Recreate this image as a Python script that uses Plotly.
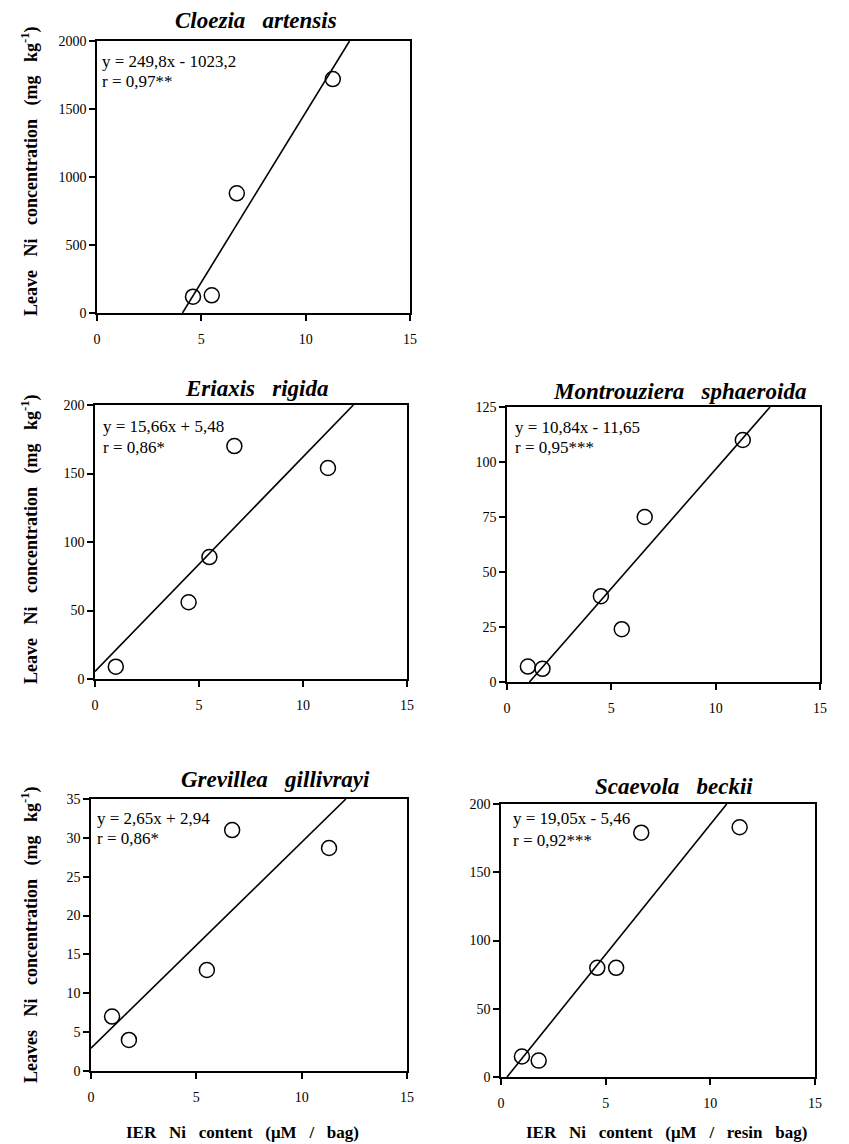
import plotly.graph_objects as go

# the page body has an 8px margin, so the figure starts at (8, 8) of the window;
# page coordinates are mapped to figure coordinates by subtracting OFF
OFF = 8
W, H = 849, 1144

# ---- data ----
titles = ["Cloezia  artensis", "Eriaxis  rigida", "Montrouziera  sphaeroida",
          "Grevillea  gillivrayi", "Scaevola  beckii"]
x1_vals = [4.6, 5.5, 6.7, 11.3]
y1_vals = [120, 130, 880, 1720]
x2_vals = [1.0, 4.5, 5.5, 6.7, 11.2]
y2_vals = [9, 56, 89, 170, 154]
x3_vals = [1.0, 1.7, 4.5, 5.5, 6.6, 11.3]
y3_vals = [7, 6, 39, 24, 75, 110]
x4_vals = [1.0, 1.8, 5.5, 6.7, 11.3]
y4_vals = [7, 4, 13, 31, 28.7]
x5_vals = [1.0, 1.8, 4.6, 5.5, 6.7, 11.4]
y5_vals = [15, 12, 80, 80, 179, 183]
slopes = [249.8, 15.66, 10.84, 2.65, 19.05]
intercepts = [-1023.2, 5.48, -11.65, 2.94, -5.46]
eq_text = ["y = 249,8x - 1023,2", "y = 15,66x + 5,48", "y = 10,84x - 11,65",
           "y = 2,65x + 2,94", "y = 19,05x - 5,46"]
r_text = ["r = 0,97**", "r = 0,86*", "r = 0,95***", "r = 0,86*", "r = 0,92***"]
y_max = [2000, 200, 125, 35, 200]
y_dtick = [500, 50, 25, 5, 50]
x_ticks = [0, 5, 10, 15]

xs = [x1_vals, x2_vals, x3_vals, x4_vals, x5_vals]
ys = [y1_vals, y2_vals, y3_vals, y4_vals, y5_vals]

# ---- layout geometry (page pixels) ----
boxes = [  # left, right, top, bottom
    (97, 410, 41, 313),
    (95, 407, 405, 679),
    (507, 820, 407, 682),
    (91, 407, 799, 1071),
    (501, 815, 804, 1077),
]
title_pos = [(256, 21), (257, 388), (679, 391), (275, 779), (674, 786)]
eq_pos = [(100, 62, 81), (101, 426, 447), (513, 428, 448), (95, 818, 838), (511, 818, 840)]

FONT = "Liberation Serif"

def px(x):
    return (x - OFF) / W

def py(y):
    return 1 - (y - OFF) / H

fig = go.Figure()
layout = dict(
    width=W, height=H, margin=dict(l=0, r=0, t=0, b=0, autoexpand=False),
    paper_bgcolor="white", plot_bgcolor="white", showlegend=False,
    font=dict(family=FONT, color="black"),
)
annotations = []
NB3 = "\u00a0\u00a0\u00a0"

for i in range(5):
    n = "" if i == 0 else str(i + 1)
    xa, ya = "x" + n, "y" + n
    l, r, t, b = boxes[i]
    layout["xaxis" + n] = dict(
        domain=[px(l), px(r)], anchor=ya, range=[0, 15], tickvals=x_ticks,
        showline=True, linecolor="black", linewidth=1.5, mirror=True,
        ticks="outside", ticklen=6, tickwidth=1.5, tickcolor="black",
        showgrid=False, zeroline=False, ticklabelstandoff=6,
        tickfont=dict(family=FONT, size=14, color="black"),
    )
    layout["yaxis" + n] = dict(
        domain=[py(b), py(t)], anchor=xa, range=[0, y_max[i]], dtick=y_dtick[i],
        showline=True, linecolor="black", linewidth=1.5, mirror=True,
        ticks="outside", ticklen=6, tickwidth=1.5, tickcolor="black",
        showgrid=False, zeroline=False,
        tickfont=dict(family=FONT, size=14, color="black"),
    )
    a, c = slopes[i], intercepts[i]
    lx0 = max(0.0, -c / a)
    lx1 = min(15.0, (y_max[i] - c) / a)
    fig.add_trace(go.Scatter(
        x=[lx0, lx1], y=[a * lx0 + c, a * lx1 + c], xaxis=xa, yaxis=ya,
        mode="lines", line=dict(color="black", width=1.6), hoverinfo="skip",
    ))
    fig.add_trace(go.Scatter(
        x=xs[i], y=ys[i], xaxis=xa, yaxis=ya, mode="markers",
        marker=dict(symbol="circle-open", size=15, color="black",
                    line=dict(width=1.5, color="black")),
    ))
    tx, tyy = title_pos[i]
    annotations.append(dict(
        x=px(tx), y=py(tyy), xref="paper", yref="paper", showarrow=False,
        text="<b><i>" + titles[i].replace("  ", NB3) + "</i></b>",
        font=dict(family=FONT, size=23, color="black"),
        xanchor="center", yanchor="middle",
    ))
    ex, ey1, ey2 = eq_pos[i]
    annotations.append(dict(
        x=px(ex), y=py(ey1), xref="paper", yref="paper", showarrow=False,
        text=eq_text[i], font=dict(family=FONT, size=17, color="black"),
        xanchor="left", yanchor="middle",
    ))
    annotations.append(dict(
        x=px(ex), y=py(ey2), xref="paper", yref="paper", showarrow=False,
        text=r_text[i], font=dict(family=FONT, size=17, color="black"),
        xanchor="left", yanchor="middle",
    ))

sp = NB3
ylabels = [
    ("Leave" + sp + "Ni" + sp + "concentration" + sp + "(mg" + sp + "kg<sup>-1</sup>)", 30, 172),
    ("Leave" + sp + "Ni" + sp + "concentration" + sp + "(mg" + sp + "kg<sup>-1</sup>)", 30, 540),
    ("Leaves" + sp + "Ni" + sp + "concentration" + sp + "(mg" + sp + "kg<sup>-1</sup>)", 30, 935),
]
for txt, x, y in ylabels:
    annotations.append(dict(
        x=px(x), y=py(y), xref="paper", yref="paper", showarrow=False,
        text="<b>" + txt + "</b>", textangle=-90,
        font=dict(family=FONT, size=18, color="black"),
        xanchor="center", yanchor="middle",
    ))

xlabels = [
    ("IER" + sp + "Ni" + sp + "content" + sp + "(μM" + sp + "/" + sp + "bag)", 242, 1132),
    ("IER" + sp + "Ni" + sp + "content" + sp + "(μM" + sp + "/" + sp + "resin" + sp + "bag)", 666, 1132),
]
for txt, x, y in xlabels:
    annotations.append(dict(
        x=px(x), y=py(y), xref="paper", yref="paper", showarrow=False,
        text="<b>" + txt + "</b>",
        font=dict(family=FONT, size=17, color="black"),
        xanchor="center", yanchor="middle",
    ))

layout["annotations"] = annotations
fig.update_layout(**layout)
fig.write_html("out.html")
